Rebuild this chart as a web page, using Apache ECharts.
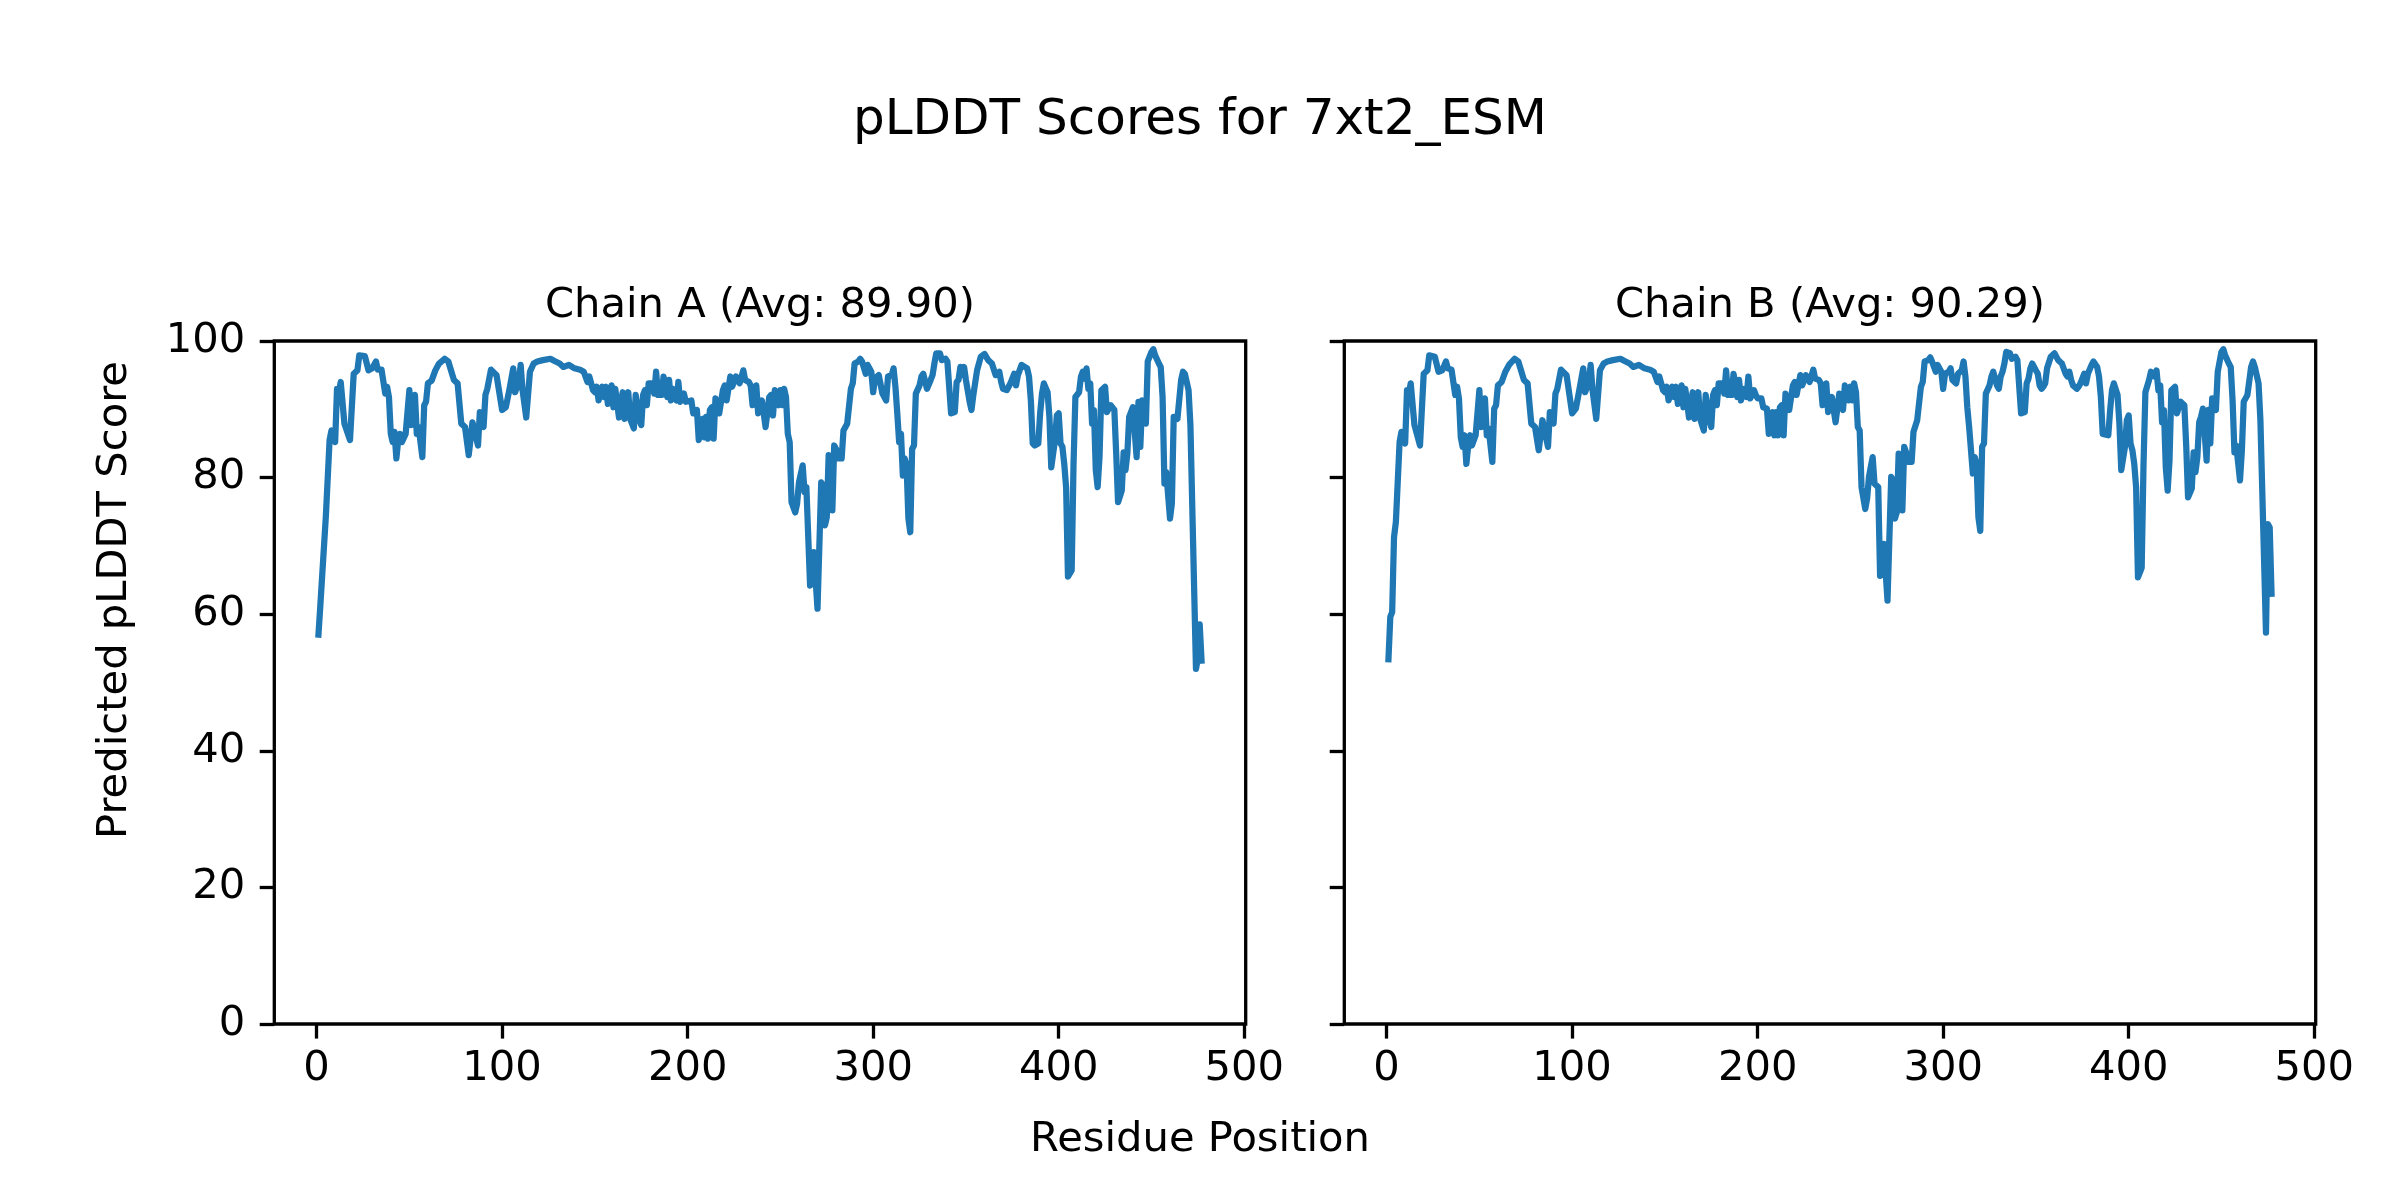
<!DOCTYPE html>
<html><head><meta charset="utf-8">
<script src="https://cdn.jsdelivr.net/npm/echarts@6/dist/echarts.min.js"></script>
<style>html,body{margin:0;padding:0;background:#fff}#c{width:2400px;height:1200px}</style>
</head><body><div id="c"></div>
<script>
const figTitle = 'pLDDT Scores for 7xt2_ESM';
const chainTitles = ['Chain A (Avg: 89.90)', 'Chain B (Avg: 90.29)'];
const xLabel = 'Residue Position';
const yLabel = 'Predicted pLDDT Score';
const xTicks = [0, 100, 200, 300, 400, 500];
const yTicks = [0, 20, 40, 60, 80, 100];

const posA = [1,2,3,5,7,8,10,11,12,13,15,18,20,22,23,26,28,30,32,33,35,37,38,39,40,41,42,43,44,45,46,48,50,51,53,54,55,57,58,59,60,62,64,66,69,71,72,74,76,78,80,82,84,85,87,88,90,91,92,94,95,97,98,100,102,104,106,107,109,110,111,113,115,117,119,122,126,128,131,133,136,139,142,144,146,147,149,150,151,152,154,155,156,157,159,160,161,163,165,166,168,169,171,172,174,175,176,177,178,179,181,182,183,184,186,187,189,190,191,192,194,195,196,198,199,200,202,203,205,206,208,209,210,211,212,213,214,215,217,218,219,220,221,223,224,226,228,230,231,233,234,235,237,238,240,241,242,244,245,246,247,249,250,251,252,253,254,255,256,257,258,259,260,262,263,264,265,266,267,268,270,272,273,274,275,276,277,278,279,280,281,283,284,286,288,289,290,292,293,294,296,297,299,300,301,303,304,305,307,308,310,311,312,313,314,315,316,317,318,319,320,321,322,323,325,326,327,329,330,331,332,333,334,336,337,339,340,342,344,345,346,347,348,349,350,351,352,353,354,355,356,358,360,361,362,364,365,366,367,368,369,370,372,373,374,376,377,378,380,381,383,384,385,386,387,389,390,391,392,393,394,395,396,398,399,400,401,402,403,404,405,407,408,409,411,412,413,414,415,416,417,418,419,420,421,422,423,424,425,426,428,430,431,432,434,435,436,437,438,439,440,442,443,444,445,447,448,450,451,452,454,455,456,457,458,460,461,462,463,464,466,467,468,470,471,474,475,476,477];
const scoreA = [57.0,61.2,61.2,74.4,85.5,86.9,85.2,93.0,92.5,94.0,87.9,85.5,95.2,95.7,97.9,97.8,95.7,96.0,97.0,95.8,95.8,92.3,93.3,91.8,86.4,85.2,86.7,82.8,85.5,86.4,85.2,86.4,92.8,87.7,92.1,86.4,87.4,83.0,90.6,91.1,93.8,94.2,95.7,96.7,97.4,97.0,97.0,94.3,93.8,87.9,87.4,83.3,88.1,88.1,84.7,89.6,87.4,92.1,93.0,95.8,95.8,95.0,94.8,89.9,90.3,93.0,96.0,92.5,94.0,96.5,92.8,88.8,95.5,96.7,97.0,97.2,97.4,97.1,96.7,96.2,96.5,96.0,95.8,95.5,94.0,94.8,92.8,92.5,93.3,91.3,93.3,91.8,93.3,90.8,93.5,90.3,93.0,88.8,92.5,88.6,92.5,88.6,87.2,92.1,88.4,87.7,92.1,92.8,90.6,93.8,93.8,92.3,95.5,92.1,92.1,94.8,91.8,94.3,91.3,93.0,91.3,94.0,91.1,92.3,91.1,91.3,91.3,89.4,89.9,85.5,88.6,85.9,88.9,85.7,89.9,90.3,85.7,91.6,89.4,89.6,92.8,93.5,91.3,94.8,93.3,94.8,93.8,95.7,94.3,94.0,93.5,90.6,93.5,89.4,91.3,89.4,87.4,91.8,92.1,89.1,92.8,90.6,92.8,90.6,93.0,91.8,86.4,85.2,76.4,76.2,74.9,76.2,79.3,81.8,77.9,78.6,78.4,64.2,64.2,69.1,60.8,79.3,78.9,73.0,74.2,83.3,83.0,75.2,84.7,84.2,82.8,82.8,86.9,87.9,93.0,93.8,96.7,97.0,97.4,97.0,95.2,96.5,95.5,92.5,94.5,95.0,95.2,92.3,91.3,94.8,95.0,96.0,93.3,89.4,85.2,86.4,80.3,82.8,81.8,74.0,72.0,84.2,84.7,92.3,93.5,94.8,95.2,93.0,92.8,94.3,95.0,96.7,98.2,98.2,97.2,97.4,97.0,89.4,89.6,94.0,94.3,96.2,95.0,96.2,94.3,94.5,91.1,89.9,92.1,92.1,95.7,97.7,98.1,98.2,97.2,96.7,96.5,95.0,94.8,95.5,94.0,93.0,92.8,93.0,93.8,95.2,93.5,95.0,96.5,96.7,96.0,94.8,91.3,85.0,84.7,85.0,89.4,92.3,93.8,94.0,92.5,88.9,81.5,85.5,89.1,89.4,85.0,84.5,82.0,78.6,65.5,66.4,82.0,91.8,92.5,94.8,95.5,94.5,96.0,93.0,93.8,87.9,89.9,81.1,78.6,83.0,92.8,92.8,93.3,89.6,90.6,89.9,83.5,76.4,78.1,83.7,81.1,83.5,88.9,89.1,90.3,83.0,91.1,84.5,91.3,87.9,97.0,98.4,98.8,97.9,96.7,96.2,91.8,79.1,80.8,74.0,76.2,88.9,89.1,88.6,94.3,95.5,95.2,92.8,87.7,52.0,53.5,58.5,53.2];

const posB = [1,2,3,4,5,7,8,10,11,12,13,15,18,20,22,23,26,28,30,32,33,35,37,38,39,40,41,42,43,44,45,46,48,50,51,53,54,55,57,58,59,60,62,64,66,69,71,72,74,76,78,80,82,84,85,87,88,90,91,92,94,95,97,98,100,102,104,106,107,109,110,111,113,115,117,119,122,126,128,131,133,136,139,142,144,146,147,149,150,151,152,154,155,156,157,159,160,161,163,165,166,168,169,171,172,174,175,176,177,178,179,181,182,183,184,186,187,189,190,191,192,194,195,196,198,199,200,202,203,205,206,208,209,210,211,212,213,214,215,217,218,219,220,221,223,224,226,228,230,231,233,234,235,237,238,240,241,242,244,245,246,247,249,250,251,252,253,254,255,256,257,258,259,260,262,263,264,265,266,267,268,270,272,273,274,275,276,277,278,279,280,281,283,284,286,288,289,290,292,293,294,296,297,299,300,301,303,304,305,307,308,310,311,312,313,314,315,316,317,318,319,320,321,322,323,325,326,327,329,330,331,332,333,334,336,337,339,340,342,344,345,346,347,348,350,351,352,353,354,355,356,358,360,361,362,364,365,366,367,368,369,370,372,373,374,376,377,378,380,381,383,384,385,386,387,389,390,391,392,393,394,395,396,398,399,400,401,402,403,404,405,407,408,409,411,412,413,414,415,416,417,418,419,420,421,422,423,424,425,426,428,430,431,432,434,435,436,437,438,439,440,442,443,444,445,447,448,450,451,452,454,455,456,457,458,460,461,462,463,464,466,467,468,470,471,474,475,476,477];
const scoreB = [53.4,59.6,60.3,71.3,73.5,85.2,86.7,85.0,92.8,92.3,93.8,87.7,84.7,95.2,95.7,97.9,97.7,95.5,95.7,97.0,96.0,95.8,92.1,93.3,91.6,85.9,84.5,86.2,82.0,84.7,86.2,84.7,86.2,92.8,87.4,91.6,86.2,87.2,82.3,90.1,90.6,93.5,94.0,95.5,96.5,97.4,97.0,97.0,94.3,93.8,87.9,87.4,84.0,88.4,88.6,84.5,89.6,87.9,92.3,93.0,95.8,95.8,95.0,94.8,89.4,90.1,93.0,96.0,92.5,94.0,96.5,92.8,88.6,95.7,96.7,97.0,97.2,97.4,97.1,96.7,96.2,96.5,96.0,95.8,95.5,94.0,94.8,92.8,92.5,93.3,91.3,93.3,91.8,93.3,90.8,93.5,90.3,93.0,88.8,92.5,88.6,92.5,88.6,86.9,92.1,88.4,87.4,92.1,92.8,90.6,93.8,93.8,92.3,95.7,92.1,92.1,95.2,91.8,94.3,91.3,93.0,91.8,94.8,91.6,92.8,92.1,91.6,91.6,90.3,90.1,86.4,89.6,86.2,89.6,86.2,90.3,90.6,86.2,92.3,89.9,90.1,93.5,94.0,92.1,95.0,93.5,95.0,94.0,95.8,94.5,94.3,93.8,90.6,93.8,89.6,91.8,89.9,88.1,92.3,92.5,89.9,93.5,91.3,93.3,91.3,93.8,92.5,87.4,86.9,78.6,78.4,75.4,76.9,80.1,83.0,79.1,79.3,78.6,65.6,65.6,70.3,62.0,80.1,79.6,74.0,74.9,83.5,83.3,75.2,84.5,83.7,82.3,82.3,86.7,88.4,93.3,94.0,97.0,97.2,97.6,97.0,95.5,96.5,95.5,93.0,95.2,95.5,96.0,94.3,93.8,95.2,95.7,97.0,94.8,90.3,87.4,87.4,80.6,83.0,82.0,74.2,72.2,84.5,85.0,92.3,93.5,94.8,95.5,93.5,93.0,94.8,95.5,96.7,98.4,98.2,97.4,97.7,97.2,89.4,89.6,93.8,94.5,96.0,96.7,95.7,95.2,93.5,93.0,93.3,93.8,96.0,97.7,98.2,98.3,97.2,96.7,96.5,95.2,94.8,95.5,94.3,93.5,93.0,93.3,93.8,95.2,93.8,95.2,96.5,97.0,96.2,94.8,91.8,86.4,86.4,86.2,89.9,92.8,93.8,93.8,92.1,87.9,81.1,84.5,88.4,89.1,85.0,84.0,82.0,78.6,65.4,66.8,82.0,92.5,94.3,95.5,95.7,94.8,95.7,92.8,93.5,88.1,89.9,81.5,78.1,82.5,92.8,92.8,93.3,89.4,91.1,90.6,84.7,77.1,78.4,83.7,80.8,83.0,88.1,88.9,90.1,82.5,89.9,85.0,91.6,89.9,95.5,98.4,98.8,97.9,96.7,96.2,91.3,83.7,84.7,79.6,84.0,91.1,91.6,92.1,96.2,97.0,96.2,93.8,88.4,57.3,73.2,72.7,63.0];

const FONT = 'DejaVu Sans';
const LINE_COLOR = '#1f77b4';
const gridLefts = [274.3, 1344.3];
const GRID_TOP = 341, GRID_W = 971.4, GRID_H = 683;

function zip(xs, ys) { return xs.map((x, i) => [x, ys[i]]); }

const chart = echarts.init(document.getElementById('c'), null, {width: 2400, height: 1200, renderer: 'canvas'});

const grids = gridLefts.map(l => ({
  left: l, top: GRID_TOP, width: GRID_W, height: GRID_H,
  show: true, borderColor: '#000', borderWidth: 3.3, backgroundColor: 'transparent', containLabel: false
}));

const tickStyle = {show: true, inside: false, length: 14.6, lineStyle: {color: '#000', width: 3.3}};

const xAxes = [0, 1].map(i => ({
  type: 'value', gridIndex: i, min: -22.8, max: 500.8,
  axisLine: {show: false, onZero: false},
  splitLine: {show: false},
  axisTick: Object.assign({}, tickStyle, {customValues: xTicks}),
  axisLabel: {show: true, customValues: xTicks, margin: 24, fontSize: 41.67, color: '#000', fontFamily: FONT}
}));

const yAxes = [0, 1].map(i => ({
  type: 'value', gridIndex: i, min: 0, max: 100, interval: 20,
  axisLine: {show: false, onZero: false},
  splitLine: {show: false},
  axisTick: Object.assign({}, tickStyle, {customValues: yTicks}),
  axisLabel: {show: i === 0, customValues: yTicks, margin: 29, fontSize: 41.67, color: '#000', fontFamily: FONT}
}));

const series = [zip(posA, scoreA), zip(posB, scoreB)].map((d, i) => ({
  type: 'line', xAxisIndex: i, yAxisIndex: i, data: d,
  showSymbol: false, symbol: 'none', smooth: false,
  lineStyle: {color: LINE_COLOR, width: 6.25, join: 'round', cap: 'square'},
  emphasis: {disabled: true}
}));

function txt(text, x, y, size, rot) {
  return {type: 'text', x: x, y: y, rotation: rot || 0, silent: true,
    style: {text: text, fontSize: size, fontFamily: FONT, fill: '#000', align: 'center', verticalAlign: 'middle'}};
}

chart.setOption({
  animation: false,
  backgroundColor: '#fff',
  grid: grids, xAxis: xAxes, yAxis: yAxes, series: series,
  graphic: [
    txt(figTitle, 1200, 121, 50),
    txt(chainTitles[0], gridLefts[0] + GRID_W / 2, 306, 41.67),
    txt(chainTitles[1], gridLefts[1] + GRID_W / 2, 306, 41.67),
    txt(xLabel, 1200, 1140, 41.67),
    txt(yLabel, 115, 600, 41.67, Math.PI / 2)
  ]
});
</script></body></html>
